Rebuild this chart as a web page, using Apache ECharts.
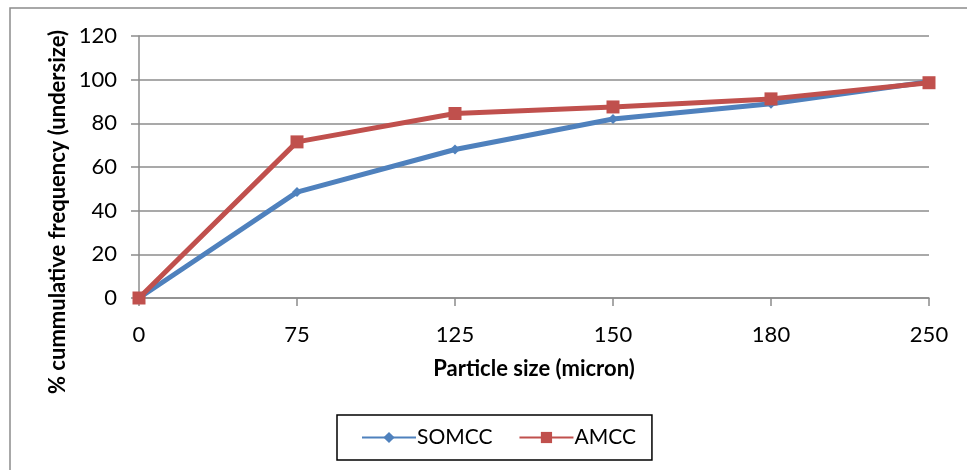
<!DOCTYPE html>
<html>
<head>
<meta charset="utf-8">
<script src="https://cdn.jsdelivr.net/npm/echarts@6/dist/echarts.min.js"></script>
<style>
html,body{margin:0;padding:0;background:#fff;}
#main{width:967px;height:470px;}
</style>
</head>
<body>
<div id="main"></div>
<script>
const categories = ['0', '75', '125', '150', '180', '250'];
const somcc = [0, 48.5, 68, 82, 89, 99];
const amcc = [0, 71.5, 84.5, 87.5, 91.2, 98.6];
const yTicks = [0, 20, 40, 60, 80, 100, 120];
const xTitle = 'Particle size (micron)';
const yTitle = '% cummulative frequency (undersize)';

const chart = echarts.init(document.getElementById('main'));
const font = 'Lato, "Open Sans", sans-serif';
chart.setOption({
  animation: false,
  backgroundColor: '#fff',
  graphic: [
    { type: 'rect', shape: { x: 10, y: 8, width: 1000, height: 500 }, style: { fill: 'none', stroke: '#8c8c8c', lineWidth: 1.5 }, z: 0 },
    { type: 'text', x: 58, y: 212, rotation: Math.PI / 2, style: { text: yTitle, font: 'bold 22px ' + font, fill: '#000', align: 'center', verticalAlign: 'middle' } }
  ],
  grid: { left: 139, right: 38, top: 36, bottom: 172 },
  legend: {
    left: 337, top: 415,
    padding: [12, 16, 12, 24],
    itemGap: 26,
    itemWidth: 54, itemHeight: 14,
    borderColor: '#000', borderWidth: 1.5,
    textStyle: { fontFamily: font, fontSize: 21, color: '#000', padding: [0, 0, 0, -4] },
    data: ['SOMCC', 'AMCC']
  },
  xAxis: {
    type: 'category', data: categories, boundaryGap: false,
    name: xTitle, nameLocation: 'middle', nameGap: 60,
    nameTextStyle: { fontFamily: font, fontSize: 22, fontWeight: 'bold', color: '#000' },
    axisLine: { lineStyle: { color: '#8c8c8c', width: 1.5 } },
    axisTick: { show: true, length: 8, alignWithLabel: true, lineStyle: { color: '#8c8c8c', width: 1.5 } },
    axisLabel: { fontFamily: font, fontSize: 22, color: '#000', margin: 26 },
    splitLine: { show: false }
  },
  yAxis: {
    type: 'value', min: 0, max: 120, interval: 20,
    axisLine: { show: true, lineStyle: { color: '#8c8c8c', width: 1.5 } },
    axisTick: { show: true, length: 8, lineStyle: { color: '#8c8c8c', width: 1.5 } },
    axisLabel: { fontFamily: font, fontSize: 22, color: '#000', margin: 22,
      formatter: v => yTicks.includes(v) ? String(v) : '' },
    splitLine: { lineStyle: { color: '#8c8c8c', width: 1.5 } }
  },
  series: [
    {
      name: 'SOMCC', type: 'line', data: somcc,
      symbol: 'diamond', symbolSize: 10, showAllSymbol: true,
      lineStyle: { color: '#4F81BD', width: 5 },
      itemStyle: { color: '#4F81BD' },
      z: 3
    },
    {
      name: 'AMCC', type: 'line', data: amcc,
      symbol: 'rect', symbolSize: 13, showAllSymbol: true,
      lineStyle: { color: '#C0504D', width: 5 },
      itemStyle: { color: '#C0504D' },
      z: 4
    }
  ]
});
</script>
</body>
</html>
